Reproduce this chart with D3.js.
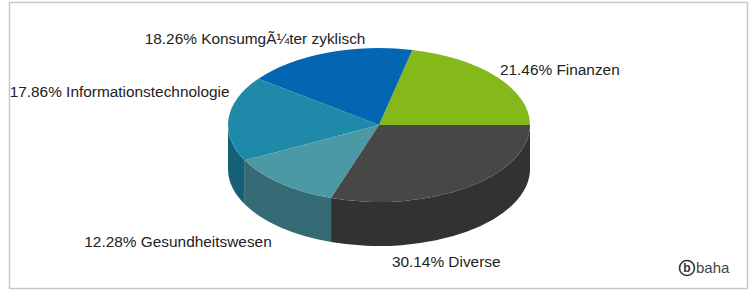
<!DOCTYPE html>
<html>
<head>
<meta charset="utf-8">
<script src="https://cdn.jsdelivr.net/npm/d3@7"></script>
<style>
  body { margin: 0; background: #fff; }
  svg text { font-family: "Liberation Sans", Arial, sans-serif; }
</style>
</head>
<body>
<div id="chart"></div>
<script>
// data
const sectors = ["Finanzen", "Konsumg\u00C3\u00BCter zyklisch", "Informationstechnologie", "Gesundheitswesen", "Diverse"];
const shares = [21.46, 18.26, 17.86, 12.28, 30.14];
const colors = ["#84b81b", "#0465b2", "#1e89a8", "#4c99a6", "#474747"];

// label placement (anchor + nudge from rim point)
const labelAnchor = ["start", "middle", "end", "end", "middle"];
const labelNudge = [[3, -7], [-72, -14], [1, -27], [-9, 14], [-21, 30]];

const W = 754, H = 291;
const cx = 379, cy = 125, rx = 151, ry = 77, depth = 44;

const svg = d3.select("#chart").append("svg")
  .attr("width", W).attr("height", H);

// frame
svg.append("rect")
  .attr("x", 9.5).attr("y", 2.5)
  .attr("width", 738).attr("height", 286)
  .attr("fill", "#fff")
  .attr("stroke", "#c8c8c8")
  .attr("stroke-width", 1.5);

// pie starts at 3 o'clock and runs counter-clockwise
const pie = d3.pie().sort(null).value(d => d)
  .startAngle(Math.PI / 2).endAngle(Math.PI / 2 - 2 * Math.PI);
const arcs = pie(shares);

const pt = (a, dy) => [cx + rx * Math.sin(a), cy - ry * Math.cos(a) + (dy || 0)];

function topPath(d) {
  const a0 = d.startAngle, a1 = d.endAngle;
  const p0 = pt(a0), p1 = pt(a1);
  const large = Math.abs(a0 - a1) > Math.PI ? 1 : 0;
  return `M${cx},${cy}L${p0}A${rx},${ry} 0 ${large} 0 ${p1}Z`;
}

// outer wall only on the front half (a between -3pi/2 and -pi/2)
function sidePath(d) {
  const hi = Math.min(d.startAngle, -Math.PI / 2);
  const lo = Math.max(d.endAngle, -3 * Math.PI / 2);
  if (hi <= lo) return null;
  const p0 = pt(hi), p1 = pt(lo), q1 = pt(lo, depth), q0 = pt(hi, depth);
  return `M${p0}A${rx},${ry} 0 0 0 ${p1}L${q1}A${rx},${ry} 0 0 1 ${q0}Z`;
}

const g = svg.append("g");

g.selectAll("path.side")
  .data(arcs.filter(d => sidePath(d)))
  .enter().append("path")
  .attr("class", "side")
  .attr("d", sidePath)
  .attr("fill", d => d3.color(colors[d.index]).darker(1));

g.selectAll("path.top")
  .data(arcs)
  .enter().append("path")
  .attr("class", "top")
  .attr("d", topPath)
  .attr("fill", d => colors[d.index]);

// labels
g.selectAll("text.lbl")
  .data(arcs)
  .enter().append("text")
  .attr("class", "lbl")
  .attr("x", d => {
    const m = (d.startAngle + d.endAngle) / 2;
    return pt(m)[0] + labelNudge[d.index][0];
  })
  .attr("y", d => {
    const m = (d.startAngle + d.endAngle) / 2;
    const p = pt(m, Math.cos(m) < 0 ? depth : 0);
    return p[1] + labelNudge[d.index][1];
  })
  .attr("dy", "0.35em")
  .attr("text-anchor", d => labelAnchor[d.index])
  .attr("font-size", 15.4)
  .attr("fill", "#222")
  .text(d => shares[d.index].toFixed(2) + "% " + sectors[d.index]);

// watermark
const wm = svg.append("g").attr("transform", "translate(687,268)");
wm.append("circle").attr("r", 7.5).attr("fill", "none")
  .attr("stroke", "#333").attr("stroke-width", 1.6);
wm.append("text").attr("text-anchor", "middle").attr("dy", "0.35em")
  .attr("font-size", 12).attr("font-weight", "bold").attr("fill", "#333").text("b");
wm.append("text").attr("x", 9).attr("dy", "0.35em")
  .attr("font-size", 15).attr("fill", "#444").text("baha");
</script>
</body>
</html>
